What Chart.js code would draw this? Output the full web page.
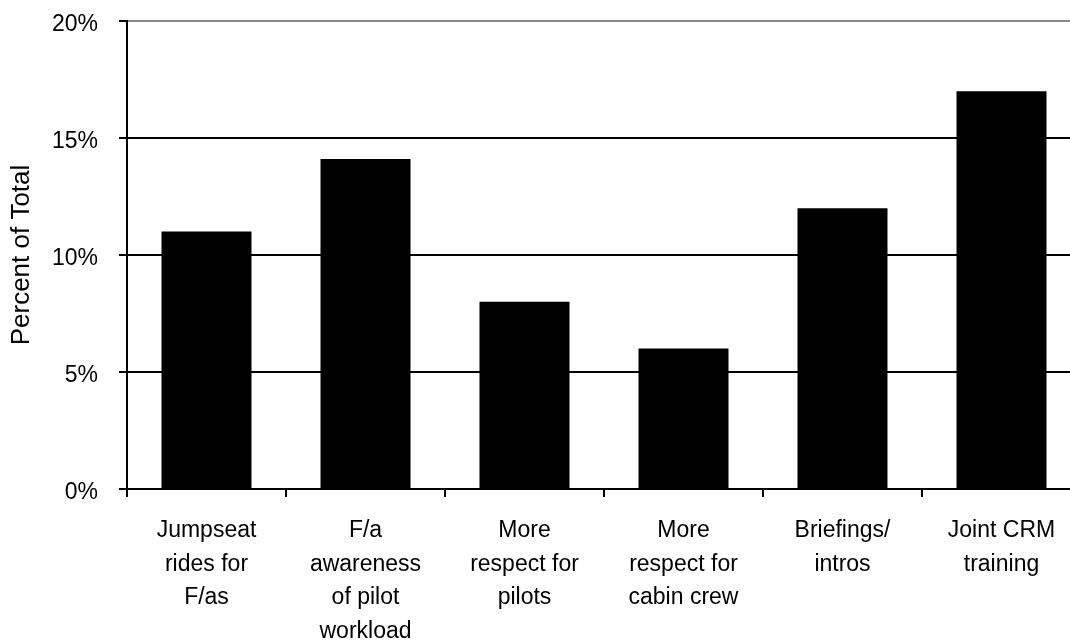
<!DOCTYPE html>
<html>
<head>
<meta charset="utf-8">
<script src="https://cdn.jsdelivr.net/npm/chart.js@4"></script>
<style>
  html, body { margin: 0; padding: 0; background: #fff; overflow: hidden; }
  #wrap { width: 1090px; height: 642px; }
</style>
</head>
<body>
<div id="wrap"><canvas id="myChart" width="1090" height="642"></canvas></div>
<script>
// Chart data
const categories = [
  ["Jumpseat", "rides for", "F/as"],
  ["F/a", "awareness", "of pilot", "workload"],
  ["More", "respect for", "pilots"],
  ["More", "respect for", "cabin crew"],
  ["Briefings/", "intros"],
  ["Joint CRM", "training"]
];
const percentValues = [11, 14.1, 8, 6, 12, 17];
const yTicks = [0, 5, 10, 15, 20];

const fontFamily = "'Liberation Sans', Arial, sans-serif";

new Chart(document.getElementById("myChart"), {
  type: "bar",
  data: {
    labels: categories,
    datasets: [{
      data: percentValues,
      backgroundColor: "#000",
      borderWidth: 0,
      categoryPercentage: 1,
      barPercentage: 0.566
    }]
  },
  options: {
    responsive: false,
    animation: false,
    events: [],
    layout: { padding: { left: 0, top: 21, right: 9, bottom: 0 } },
    plugins: { legend: { display: false }, tooltip: { enabled: false } },
    scales: {
      x: {
        offset: true,
        grid: {
          offset: true,
          drawOnChartArea: false,
          color: "#000",
          lineWidth: 2,
          tickLength: 8
        },
        border: { color: "#000", width: 2 },
        ticks: {
          color: "#000",
          font: { family: fontFamily, size: 23, lineHeight: 1.46 },
          maxRotation: 0,
          autoSkip: false,
          padding: 17
        },
        afterFit: s => { s.height = 153; s.paddingLeft = 0; s.paddingRight = 0; }
      },
      y: {
        min: 0,
        max: 20,
        afterBuildTicks: s => { s.ticks = yTicks.map(v => ({ value: v })); },
        grid: {
          color: ctx => ctx.tick && ctx.tick.value === 20 ? "#888" : "#000",
          lineWidth: 2,
          tickLength: 8,
          tickColor: "#000"
        },
        border: { color: "#000", width: 2 },
        ticks: {
          color: "#000",
          // empty first line nudges the label a few px below its gridline, as in the original
          font: { family: fontFamily, size: 23, lineHeight: "8px" },
          padding: 21,
          callback: v => ["", v + "%"]
        },
        title: {
          display: true,
          text: "Percent of Total",
          color: "#000",
          font: { family: fontFamily, size: 26 },
          padding: { top: 6, bottom: 0 }
        },
        afterFit: s => { s.width = 127; s.paddingTop = 0; s.paddingBottom = 0; }
      }
    }
  }
});
</script>
</body>
</html>
